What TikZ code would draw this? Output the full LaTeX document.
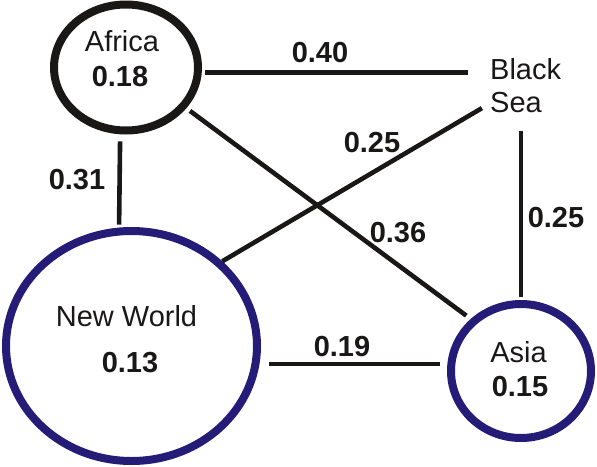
\documentclass[tikz,border=0pt]{standalone}
\usepackage{fontspec}
\setmainfont{Liberation Sans}
\usetikzlibrary{shapes.geometric}
\definecolor{ink}{RGB}{26,23,23}
\definecolor{worldblue}{RGB}{36,28,118}
\tikzset{
  region/.style={ellipse, draw, line width=8pt, inner sep=0pt},
  link/.style={draw=ink, line width=4.6pt},
  place/.style={inner sep=0pt, text=ink, font=\fontsize{29}{33}\selectfont},
  weight/.style={place, font=\fontsize{29}{33}\selectfont\bfseries},
}

\begin{document}
\begin{tikzpicture}[x=1pt, y=-1pt]
	\useasboundingbox (0,0) rectangle (597,466);
	
	% regions
	\node[region, draw=ink, minimum width=144pt, minimum height=126pt] (africa) at (126,67.5) {};
	\node[region, draw=worldblue, minimum width=251pt, minimum height=230pt] (newworld) at (131.5,346) {};
	\node[region, draw=worldblue, minimum width=140pt, minimum height=134pt] (asia) at (521,371) {};
	\node[place, align=left, anchor=west] (bsea) at (490,86) {Black\\Sea};
	
	\node[place] (africaname) at (122,41.5) {Africa};
	\node[weight] (africaval) at (120,77) {0.18};
	\node[place] (newworldname) at (126.5,316.5) {New World};
	\node[weight] (newworldval) at (130,362.5) {0.13};
	\node[place] (asianame) at (518.5,352.5) {Asia};
	\node[weight] (asiaval) at (520,387) {0.15};
	
	% connectors
	\draw[link, shorten <=3pt, shorten >=22pt] (africa.-4) -- (africa.-4 -| bsea.west);
	\draw[link, shorten <=7pt, shorten >=3pt] (africa.-95) -- (newworld.96);
	\draw[link, shorten <=9.4pt] ([yshift=10pt]bsea.south west) -- (newworld.43);
	\draw[link, shorten <=4.5pt, shorten >=5.5pt] (africa.-34) -- (asia.134);
	\draw[link, shorten <=18pt, shorten >=3pt] (bsea.south -| asia.north) -- (asia.north);
	\draw[link, shorten <=9.5pt, shorten >=7pt] (newworld.-8) -- (newworld.-8 -| asia.west);
	
	% weights
	\node[weight] (w40) at (320,53) {0.40};
	\node[weight] (w31) at (77,180) {0.31};
	\node[weight] (w25a) at (372,143) {0.25};
	\node[weight] (w36) at (398,233) {0.36};
	\node[weight] (w25b) at (556,218) {0.25};
	\node[weight] (w19) at (342,347) {0.19};
\end{tikzpicture}
\end{document}
